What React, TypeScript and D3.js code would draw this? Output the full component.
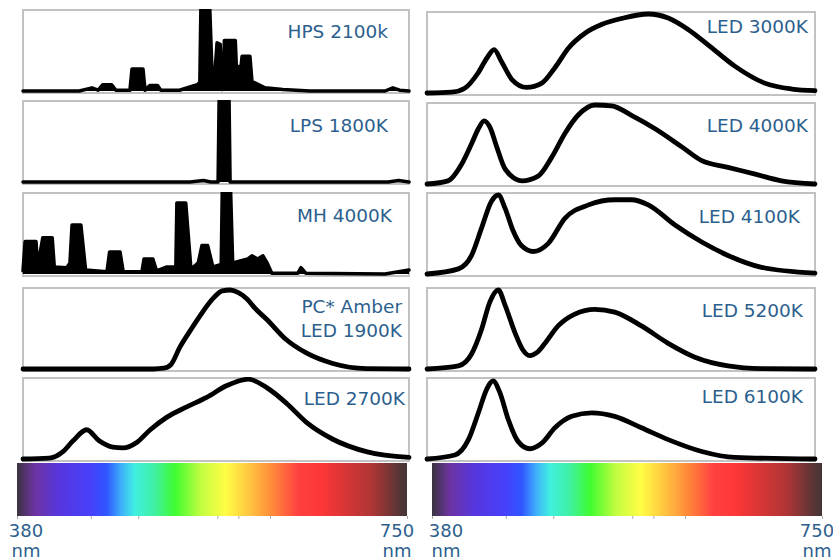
import React, { useEffect, useRef } from "react";
import * as d3 from "d3";

type Pt = [number, number];

// relative intensity (0-100) against wavelength (nm)
const hps: Pt[] = [
  [380, 0], [434, 0], [446, 4], [452, 1], [456.5, 8], [465, 8], [469, 1], [482.5, 1], [484.5, 28], [495, 28],
  [497, 1], [501.5, 7], [509, 7], [512, 1], [530, 1], [547, 8], [549.5, 11], [550.5, 106], [559, 106], [561, 31],
  [564, 24], [566, 61], [569, 59], [570.5, 2], [571.5, 2], [573, 64], [583.5, 64], [584.5, 31], [589, 31], [590, 44],
  [597.5, 44], [599.5, 12], [612, 4], [629, 2], [655, 0], [727, 0], [734.5, 4], [741, 1], [750, 0],
];
const lps: Pt[] = [
  [380, 0], [540, 0], [553, 2], [560, 0], [567, 0], [568, 106], [577.5, 106], [578.5, 0], [730, 0], [740, 2], [750, 0],
];
const mh: Pt[] = [
  [380, 4], [382, 41], [392.5, 41], [394, 9], [399, 46], [408, 46], [410, 9], [422, 8], [425, 14], [427, 62],
  [435.5, 62], [440, 5], [460.5, 3], [463, 28], [473, 28], [476, 3], [494, 3], [496, 19], [504.5, 19], [508, 4],
  [518, 9], [526.5, 9], [527.5, 90], [536, 90], [541, 6], [548, 14], [551.5, 36], [557, 36], [562, 9], [570, 12],
  [571, 106], [579, 106], [581, 14], [595.5, 19], [599.5, 23], [605, 19], [610, 23], [614, 14], [618.5, 1],
  [643.5, 1], [646.5, 8], [651, 1], [727, 0], [750, 5],
];
const pcAmber: Pt[] = [
  [380, 0], [505, 0], [515, 1], [522, 6], [530.5, 28], [540, 48], [549.5, 67], [562, 89], [571, 99], [578.5, 100],
  [586, 97], [594.5, 89], [603, 76], [613.5, 63], [632.5, 37], [652, 20], [677, 7], [709, 0.5], [750, 0],
];
const led2700: Pt[] = [
  [380, 0], [405, 1], [418, 9], [428, 23], [441, 37], [453, 23], [466, 15], [476, 14], [489, 21], [502, 37],
  [518, 53], [537, 66], [556, 78], [575.5, 93], [596, 101], [614, 90], [633, 70], [652, 46], [677, 25],
  [710, 9], [750, 2],
];
const led3000: Pt[] = [
  [380, 0], [403.5, 1], [416, 6], [428.5, 25], [437, 44], [444, 55], [451, 40], [461, 17], [475, 7], [489.5, 12.5],
  [502, 32], [515, 57], [531, 76], [547, 87], [566, 94.5], [591, 100], [610, 95], [629, 80.5], [648, 61],
  [673.5, 34], [702, 12.5], [728, 5], [750, 3],
];
const led4000: Pt[] = [
  [380, 0], [400, 4], [413, 25], [422.5, 51], [429, 70], [434.5, 80], [440, 72], [446.5, 47], [454.5, 19],
  [470.5, 4], [486, 10], [499, 34], [511.5, 64], [524, 87], [540, 100], [556, 99], [575, 87], [597.5, 70],
  [623, 47], [642, 29.5], [667, 21], [693, 12.5], [718, 4], [750, 0],
];
const led4100: Pt[] = [
  [380, 0], [410, 6.5], [422.5, 23.5], [432, 58], [441.5, 92], [448, 100], [454.5, 83], [462, 55], [470, 36],
  [481.5, 28.5], [495.5, 38.5], [511.5, 70.5], [534, 87.5], [559, 94], [575, 94], [591, 87.5], [616.5, 62],
  [642, 40.5], [667, 23.5], [699, 8.5], [750, 1],
];
const led5200: Pt[] = [
  [380, 0], [410, 4], [422.5, 19], [432, 50], [440, 85], [448, 100], [454.5, 80.5], [464, 45.5], [471, 25],
  [478, 17], [485, 21], [492.5, 32.5], [505, 54.5], [521, 69.5], [540, 75.5], [559, 72], [584.5, 54.5],
  [610, 32.5], [635.5, 15], [667, 4], [699, 0.5], [750, 0],
];
const led6100: Pt[] = [
  [380, 0], [406.5, 5], [419.5, 24.5], [429, 58.5], [437, 88.5], [443, 99], [449.5, 84], [457.5, 50], [467, 22],
  [478, 13], [489.5, 20], [502, 39.5], [518, 54], [537, 58.5], [559, 54], [584.5, 39.5], [610, 24.5],
  [642, 9.5], [673.5, 2], [750, 0],
];

const leftLamps = ["HPS 2100k", "LPS 1800K", "MH 4000K", "PC* Amber|LED 1900K", "LED 2700K"];
const rightLamps = ["LED 3000K", "LED 4000K", "LED 4100K", "LED 5200K", "LED 6100K"];

// visible spectrum strip
const spectrumStops: [number, string][] = [
  [380, "#3b3440"], [397, "#6d33a2"], [420, "#5636de"], [449, "#4840fa"], [465, "#2f55ff"], [479, "#3fb0fb"],
  [492, "#3ff0e0"], [511, "#3ff0a0"], [530, "#3ffc30"], [555, "#c4fd40"], [578, "#fffd45"], [600, "#ffc640"],
  [622, "#ff8a3a"], [647, "#ff4040"], [669, "#fd3636"], [717, "#ae3535"], [746, "#4d3536"], [750, "#473537"],
];
const bandTicks = [380, 450, 495, 570, 590, 620, 750];
const endLabels = ["380", "750"];

const W = 833;
const H = 560;
const panelH = 83;
const textColor = "#2d5f8e";
const font = "'DejaVu Sans', Verdana, sans-serif";

const columns = [
  {
    lamps: leftLamps,
    series: [hps, lps, mh, pcAmber, led2700],
    filled: [true, true, true, false, false],
    panelX: [23, 409],
    tops: [10, 101, 193, 288, 378],
    labelDx: [-21, -21, -17, -7, -4],
    labelDy: [28, 31, 29, 25, 27],
    barX: [17, 407],
    endLabelX: [26, 397],
  },
  {
    lamps: rightLamps,
    series: [led3000, led4000, led4100, led5200, led6100],
    filled: [false, false, false, false, false],
    panelX: [427, 815],
    tops: [12, 103, 193, 288, 378],
    labelDx: [-7, -7, -15, -12, -12],
    labelDy: [21, 29, 30, 29, 25],
    barX: [432, 822],
    endLabelX: [446, 817],
  },
];

const barTop = 463;
const barH = 53;

function App() {
  const ref = useRef<SVGSVGElement>(null);

  useEffect(() => {
    const svg = d3.select(ref.current);
    svg.selectAll("*").remove();

    const defs = svg.append("defs");
    const frac = d3.scaleLinear().domain([380, 750]).range([0, 100]);
    defs
      .append("linearGradient")
      .attr("id", "spectrum")
      .attr("x1", "0%")
      .attr("x2", "100%")
      .attr("y1", "0%")
      .attr("y2", "0%")
      .selectAll("stop")
      .data(spectrumStops)
      .join("stop")
      .attr("offset", (d) => frac(d[0]) + "%")
      .attr("stop-color", (d) => d[1]);

    columns.forEach((col, ci) => {
      const x = d3.scaleLinear().domain([380, 750]).range(col.panelX);

      col.series.forEach((data, ri) => {
        const top = col.tops[ri];
        const bottom = top + panelH;
        const y = d3.scaleLinear().domain([0, 100]).range([bottom - 2, top + 2]);
        const clipId = `clip-${ci}-${ri}`;
        defs
          .append("clipPath")
          .attr("id", clipId)
          .append("rect")
          .attr("x", col.panelX[0] - 4)
          .attr("y", top - 1)
          .attr("width", col.panelX[1] - col.panelX[0] + 8)
          .attr("height", panelH + 4);

        const g = svg.append("g");
        g.append("rect")
          .attr("x", col.panelX[0])
          .attr("y", top)
          .attr("width", col.panelX[1] - col.panelX[0])
          .attr("height", panelH)
          .attr("fill", "#fff")
          .attr("stroke", "#c2c2c2")
          .attr("stroke-width", 2);

        const plot = g.append("g").attr("clip-path", `url(#${clipId})`);
        if (col.filled[ri]) {
          const area = d3
            .area<Pt>()
            .x((d) => x(d[0]))
            .y0(y(0))
            .y1((d) => y(d[1]));
          plot.append("path").attr("d", area(data)).attr("fill", "#000");
        }
        const line = d3
          .line<Pt>()
          .x((d) => x(d[0]))
          .y((d) => y(d[1]))
          .curve(col.filled[ri] ? d3.curveLinear : d3.curveMonotoneX);
        plot
          .append("path")
          .attr("d", line(data))
          .attr("fill", "none")
          .attr("stroke", "#000")
          .attr("stroke-width", col.filled[ri] ? 3.5 : 4.8)
          .attr("stroke-linejoin", "round")
          .attr("stroke-linecap", "round");

        const label = g
          .append("text")
          .attr("x", col.panelX[1] + col.labelDx[ri])
          .attr("y", top + col.labelDy[ri])
          .attr("text-anchor", "end")
          .attr("font-family", font)
          .attr("font-size", 18.5)
          .attr("fill", textColor);
        col.lamps[ri].split("|").forEach((t, i) => {
          label
            .append("tspan")
            .attr("x", col.panelX[1] + col.labelDx[ri])
            .attr("dy", i === 0 ? 0 : 24)
            .text(t);
        });
      });

      // spectrum strip with colour band ticks
      const xb = d3.scaleLinear().domain([380, 750]).range(col.barX);
      svg
        .append("rect")
        .attr("x", col.barX[0])
        .attr("y", barTop)
        .attr("width", col.barX[1] - col.barX[0])
        .attr("height", barH)
        .attr("fill", "url(#spectrum)");

      const axis = svg
        .append("g")
        .attr("transform", `translate(0, ${barTop + barH})`)
        .call(d3.axisBottom(xb).tickValues(bandTicks).tickSize(3).tickFormat(() => ""));
      axis.select(".domain").remove();
      axis.selectAll(".tick line").attr("stroke", "#aaa");

      endLabels.forEach((t, i) => {
        const lbl = svg
          .append("text")
          .attr("x", col.endLabelX[i])
          .attr("y", 537)
          .attr("text-anchor", "middle")
          .attr("font-family", font)
          .attr("font-size", 18)
          .attr("fill", textColor);
        lbl.append("tspan").attr("x", col.endLabelX[i]).text(t);
        lbl.append("tspan").attr("x", col.endLabelX[i]).attr("dy", 20).text("nm");
      });
    });
  }, []);

  return (
    <svg
      ref={ref}
      width={W}
      height={H}
      style={{ position: "absolute", left: 0, top: 0, background: "#fff" }}
    ></svg>
  );
}

export default App;
